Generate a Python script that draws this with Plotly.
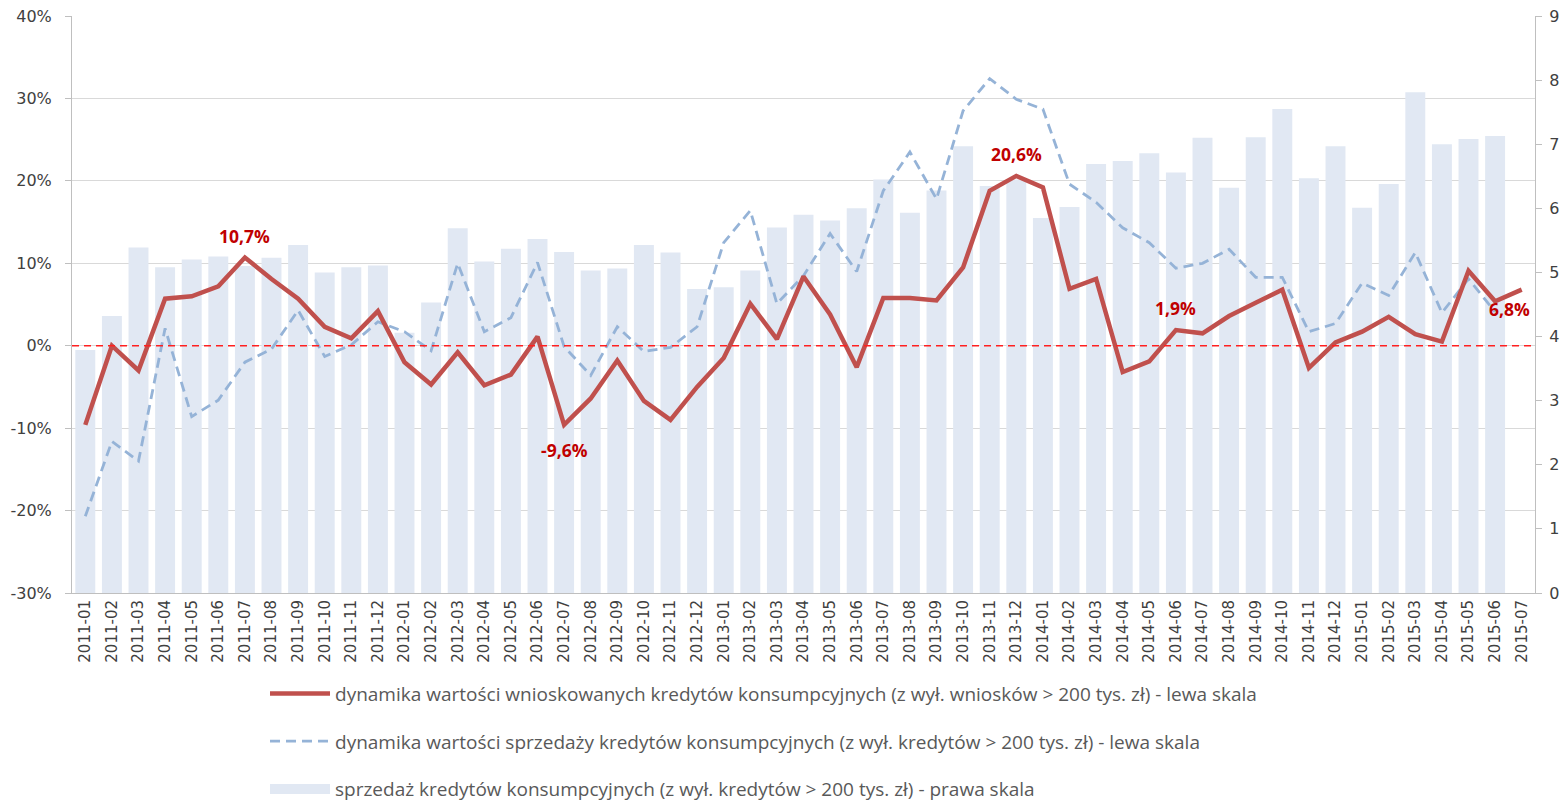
import plotly.graph_objects as go

months = []
for y in range(2011, 2016):
    for m in range(1, 13):
        if y == 2015 and m > 7:
            break
        months.append(f"{y}-{m:02d}")

# sprzedaz (prawa skala)
sales = [3.79, 4.32, 5.39, 5.08, 5.20, 5.25, 5.10, 5.23, 5.43, 5.00,
         5.08, 5.11, 4.06, 4.53, 5.69, 5.17, 5.37, 5.52, 5.32, 5.03,
         5.06, 5.43, 5.31, 4.74, 4.77, 5.03, 5.70, 5.90, 5.81, 6.00,
         6.45, 5.93, 6.28, 6.97, 6.35, 6.45, 5.85, 6.02, 6.69, 6.74,
         6.86, 6.56, 7.10, 6.32, 7.11, 7.55, 6.47, 6.97, 6.01, 6.38,
         7.81, 7.00, 7.08, 7.13, None]

# dynamika wnioskow (lewa skala, %)
applied = [-9.6, 0.0, -3.0, 5.7, 6.0, 7.2, 10.7, 8.1, 5.7, 2.3,
           0.9, 4.2, -2.0, -4.7, -0.8, -4.8, -3.5, 1.1, -9.6, -6.4,
           -1.8, -6.7, -9.0, -5.0, -1.5, 5.1, 0.8, 8.4, 3.8, -2.6,
           5.8, 5.8, 5.5, 9.5, 18.8, 20.6, 19.2, 6.9, 8.1, -3.2,
           -1.9, 1.9, 1.5, 3.6, 5.2, 6.8, -2.7, 0.4, 1.7, 3.5,
           1.4, 0.5, 9.1, 5.4, 6.8]

# dynamika sprzedazy (lewa skala, %)
sold = [-20.7, -11.6, -14.0, 2.1, -8.6, -6.6, -2.0, -0.4, 4.3, -1.3,
        0.1, 2.9, 1.7, -0.6, 10.0, 1.7, 3.4, 10.1, -0.1, -3.6,
        2.3, -0.7, -0.2, 2.3, 12.5, 16.4, 5.1, 8.5, 13.6, 9.0,
        18.8, 23.5, 17.8, 28.5, 32.4, 29.9, 28.7, 19.6, 17.4, 14.3,
        12.5, 9.4, 10.0, 11.7, 8.3, 8.3, 1.7, 2.7, 7.6, 6.1,
        11.3, 4.0, 8.1, 4.1, None]

left_ticks = [-30, -20, -10, 0, 10, 20, 30, 40]
left_text = ["-30%", "-20%", "-10%", "0%", "10%", "20%", "30%", "40%"]
right_ticks = [0, 1, 2, 3, 4, 5, 6, 7, 8, 9]

# labelled points: index, text, pixel shift (x, y)
labels = [(6, "10,7%", 0, 22), (18, "-9,6%", 0, -25), (35, "20,6%", 0, 22),
          (41, "1,9%", 0, 22), (54, "6,8%", -12, -19)]

names = [
    "dynamika wartości wnioskowanych kredytów konsumpcyjnych (z wył. wniosków > 200 tys. zł) - lewa skala",
    "dynamika wartości sprzedaży kredytów konsumpcyjnych (z wył. kredytów > 200 tys. zł) - lewa skala",
    "sprzedaż kredytów konsumpcyjnych (z wył. kredytów > 200 tys. zł) - prawa skala",
]

BAR_COLOR = "#e1e8f3"

fig = go.Figure()

# bars on the base axis (right scale) so the lines stay on top
fig.add_trace(go.Bar(x=months, y=sales, name=names[2], yaxis="y",
                     marker=dict(color=BAR_COLOR, line_width=0),
                     showlegend=False))

fig.add_trace(go.Scatter(x=months, y=sold, name=names[1], mode="lines", yaxis="y2",
                         line=dict(color="#95b3d7", width=2.8, dash="10px,6px"),
                         legendrank=2, legendgroup="b"))

fig.add_trace(go.Scatter(x=months, y=applied, name=names[0], mode="lines", yaxis="y2",
                         line=dict(color="#c0504d", width=4.5),
                         legendrank=1, legendgroup="a"))

# legend entry for the bars (wide swatch like the original)
fig.add_trace(go.Scatter(x=[None], y=[None], name=names[2], mode="lines", yaxis="y2",
                         line=dict(color=BAR_COLOR, width=12),
                         legendrank=3, legendgroup="c"))

fig.add_shape(type="line", xref="paper", x0=0, x1=1, yref="y2", y0=0, y1=0,
              line=dict(color="#ff2020", width=1.4, dash="7px,5px"))

for i, t, dx, dy in labels:
    fig.add_annotation(x=months[i], y=applied[i], yref="y2", text=f"<b>{t}</b>",
                       showarrow=False, xshift=dx, yshift=dy,
                       font=dict(color="#c00000", size=17.5, family="Open Sans"))

fig.update_layout(
    width=1552, height=796,
    template="plotly_white",
    plot_bgcolor="white",
    font=dict(family="DejaVu Sans", color="#404040"),
    margin=dict(l=64, r=25, t=8, b=211, autoexpand=False),
    bargap=0.25,
    showlegend=True,
    legend=dict(orientation="v", xref="container", x=0.1656, xanchor="left",
                yref="container", y=0.1625, yanchor="top",
                font=dict(size=19, family="Open Sans", color="#595959"),
                tracegroupgap=20, itemwidth=60, bgcolor="rgba(0,0,0,0)"),
    xaxis=dict(type="category", tickangle=-90,
               tickfont=dict(size=15, color="#404040", family="DejaVu Sans"),
               showgrid=False, showline=True, linecolor="#bfbfbf", ticks="",
               range=[-0.5, len(months) - 0.5], automargin=False),
    yaxis=dict(range=[0, 9], tickvals=right_ticks, side="right", showgrid=False,
               zeroline=False, showline=True, linecolor="#bfbfbf",
               ticks="outside", ticklen=6, tickcolor="#bfbfbf", automargin=False,
               ticklabeloverflow="allow", ticklabelstandoff=4,
               tickfont=dict(size=16, color="#404040")),
    yaxis2=dict(range=[-30, 40], tickvals=left_ticks, ticktext=left_text,
                overlaying="y", side="left", showgrid=True, gridcolor="#d9d9d9",
                zeroline=False, showline=True, linecolor="#bfbfbf",
                ticks="outside", ticklen=6, tickcolor="#bfbfbf", automargin=False,
                ticklabeloverflow="allow", ticklabelstandoff=10,
                tickfont=dict(size=16, color="#404040")),
)

fig.write_html("out.html")
